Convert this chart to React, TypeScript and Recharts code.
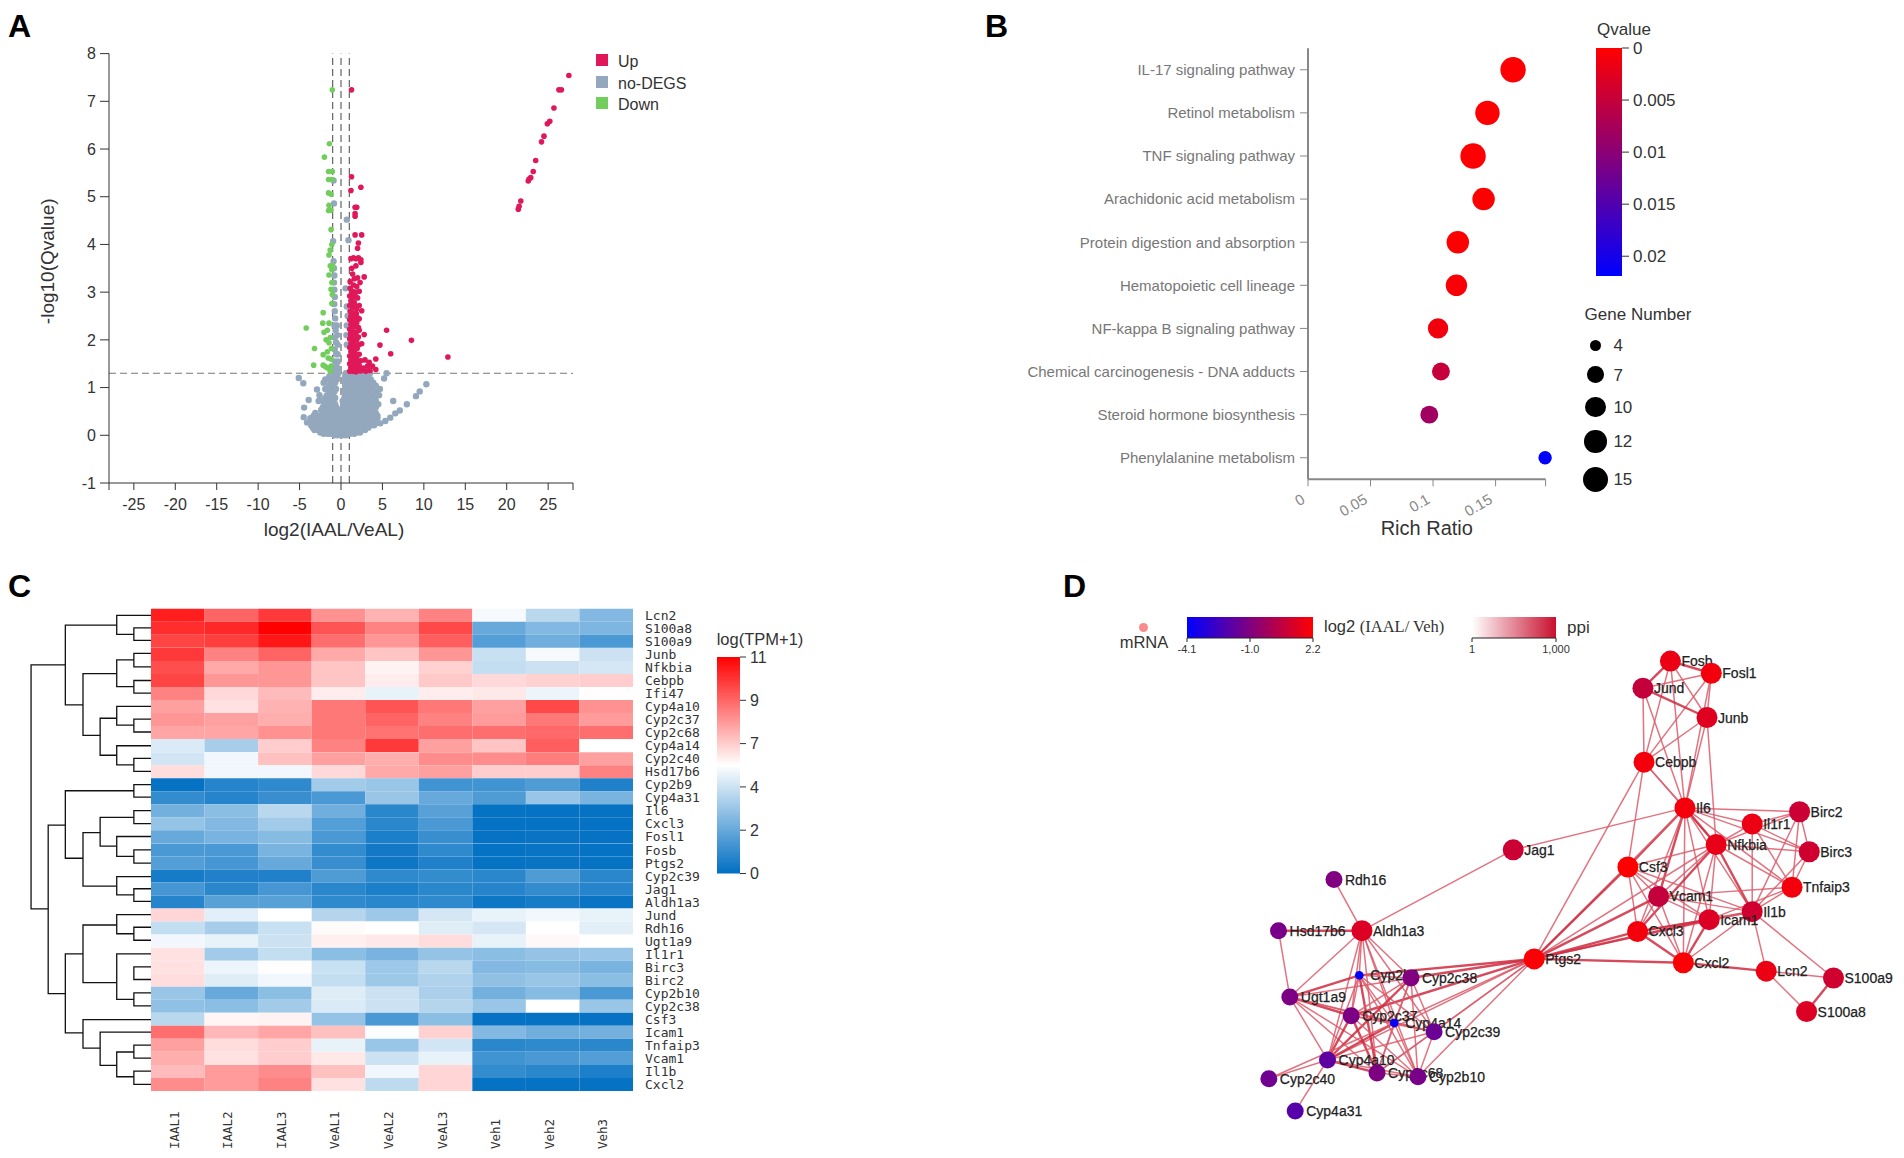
import { Bar, BarChart, Cell, Label, ReferenceLine, Scatter, ScatterChart, XAxis, YAxis, ZAxis } from 'recharts';

const SANS = '"Liberation Sans", Arial, sans-serif';
const MONO = '"DejaVu Sans Mono", monospace';

// A: volcano plot, [log2 fold change, -log10 q]
const volcanoUp: [number, number][] = [
  [21.4, 4.74], [21.5, 4.8], [21.7, 4.91], [22.6, 5.33], [22.7, 5.37], [22.9, 5.4], [23.2, 5.53], [23.5, 5.76],
  [24.2, 6.15], [24.5, 6.27], [24.9, 6.53], [25.2, 6.58], [25.7, 6.86], [26.3, 7.24], [26.6, 7.24], [27.5, 7.54],
  [1.27, 7.24], [1.27, 5.42], [2.4, 5.2], [1.2, 5.13], [1.7, 4.78], [1.9, 4.78], [1.7, 4.65], [1.7, 4.59],
  [1.7, 4.2], [2.5, 4.2], [2.1, 4.03], [2, 3.92], [1.2, 3.7], [1.5, 3.72], [1.8, 3.7], [2.1, 3.72], [2.4, 3.68],
  [2.4, 3.62], [1.3, 3.5], [1.8, 3.55], [2.8, 3.32], [1.4, 3.38], [1.6, 3.28], [2, 3.3], [2.3, 3.2], [1.1, 3.22],
  [1.5, 3.15], [1.9, 3.12], [1.1, 3.08], [1.4, 3.02], [1.8, 3], [2.2, 3.02], [1.05, 2.92], [1.5, 2.9], [2, 2.88],
  [1.2, 2.82], [1.6, 2.78], [2.2, 2.72], [1.05, 2.72], [1.4, 2.68], [1.9, 2.65], [2.5, 2.61], [1.1, 2.6], [1.6, 2.56],
  [1.2, 2.5], [1.7, 2.46], [2.2, 2.44], [1.05, 2.42], [1.45, 2.38], [1.9, 2.36], [1.2, 2.32], [1.6, 2.28], [2.1, 2.26],
  [1.05, 2.22], [1.4, 2.18], [1.85, 2.16], [2.2, 2.2], [1.15, 2.12], [1.6, 2.08], [2.8, 2.11], [1.05, 2.02], [1.4, 1.98],
  [1.9, 2.0], [1.2, 1.92], [1.6, 1.9], [2.5, 1.92], [1.05, 1.84], [1.45, 1.82], [1.95, 1.82], [1.2, 1.75], [1.7, 1.72],
  [1.05, 1.66], [1.4, 1.66], [1.9, 1.64], [2.2, 1.7], [1.2, 1.58], [1.65, 1.56], [2.4, 1.56], [1.05, 1.5], [1.4, 1.48],
  [1.85, 1.48], [2.2, 1.46], [1.2, 1.42], [1.6, 1.4], [2.05, 1.38], [1.05, 1.34], [1.4, 1.34], [1.8, 1.33],
  [2.9, 1.58], [3.4, 1.53], [4.2, 1.6], [3.2, 1.45], [3.8, 1.45], [4.2, 1.38], [2.7, 1.41], [2.5, 1.36], [3.5, 1.36], [3, 1.34],
  [5.5, 2.2], [8.5, 1.99], [4.7, 1.89], [6, 1.71], [12.9, 1.64],
  [1.3, 2.95], [1.7, 2.9], [1.35, 2.76], [1.8, 2.7], [1.4, 2.56], [1.85, 2.55], [1.35, 2.44], [2, 2.46], [1.4, 2.27], [1.85, 2.27],
  [1.25, 2.06], [1.7, 2.0], [2.1, 2.06], [1.4, 1.86], [1.75, 1.82], [2.15, 1.9], [1.35, 1.74], [1.55, 1.66], [2.05, 1.56], [1.3, 1.5],
  [1.65, 1.47], [1.95, 1.42], [1.3, 1.38], [2.3, 1.35],
];
const volcanoDown: [number, number][] = [
  [-1.05, 7.24], [-1.4, 6.11], [-2, 5.83], [-1.5, 5.53], [-1.05, 5.53], [-1.5, 5.36], [-1.1, 5.36], [-1.5, 5.08], [-1.2, 5.05],
  [-1.45, 4.82], [-1.5, 4.71], [-1.2, 4.72], [-1.2, 4.31], [-1.1, 4], [-1.3, 3.88], [-1.45, 3.78], [-1.3, 3.55], [-1, 3.55],
  [-1.1, 3.47], [-1.45, 3.36], [-1.1, 3.2], [-1.2, 3.06], [-1.05, 2.95], [-1.1, 2.76], [-2.15, 2.57], [-4.2, 2.25], [-2.2, 2.35],
  [-1.45, 2.35], [-1.65, 2.2], [-2.05, 2.16], [-1.3, 2.05], [-1.8, 2.0], [-1.45, 1.94], [-3.2, 1.82], [-1.65, 1.75], [-2.15, 1.69],
  [-1.55, 1.62], [-1.2, 1.6], [-3.3, 1.47], [-2.15, 1.47], [-1.65, 1.41], [-1.3, 1.34], [-1.9, 1.44], [-1.2, 1.45], [-1.15, 1.82],
];
const flatOutliers: [number, number][] = [
  [-0.9, 5.34], [-0.85, 4.86], [0.7, 4.52], [-0.95, 4.07], [0.9, 4.09], [0.55, 3.08], [-5.1, 1.2], [-4.55, 1.09], [-4.45, 0.58],
  [-4.5, 0.38], [-4.1, 0.27], [-3.9, 0.74], [-2.7, 0.72], [-2.9, 0.96], [-1.9, 1.17],
  [4.75, 0.25], [5.35, 0.3], [5.95, 0.37], [6.55, 0.46], [7.1, 0.52], [7.95, 0.65], [9.05, 0.82], [9.5, 0.92], [10.3, 1.07],
  [5.5, 1.3], [5.2, 1.19], [6.3, 0.72], [0.7, 2.7], [0.8, 2.5], [0.7, 2.3], [0.65, 2.1], [0.7, 1.9],
  [-0.9, 3.65], [-0.85, 3.5], [-0.8, 3.35], [-0.85, 3.2], [-0.8, 3.05], [-0.75, 2.9], [-0.8, 2.75], [-0.75, 2.6], [-0.7, 2.45],
  [-0.8, 2.3], [-0.65, 2.2], [-0.75, 2.05], [-0.6, 1.95], [-0.75, 1.8], [-0.6, 1.7], [-0.75, 1.55], [-0.55, 1.5], [-0.7, 1.4], [-0.45, 1.35],
  [-0.5, 2.3], [-0.45, 2.1], [-0.4, 1.9], [-0.4, 1.7], [-0.35, 1.55], [-0.35, 1.4],
];
// rows of the grey cloud under the q threshold: [-log10 q, fold changes]
const flatRows: [number, number[]][] = [
  [0.0, [-0.8, -0.4, 0.2, 0.6]],
  [0.03, [-2.1, -1.6, -1.2, -0.2, 1.1, 1.6]],
  [0.06, [-2.5, -1.9, -1.3, -0.8, -0.3, 0.1, 0.5, 1, 1.4, 1.9, 2.3]],
  [0.11, [-3.2, -2.7, -2.2, -1.7, -1.1, -0.6, 0, 0.5, 1, 1.5, 2, 2.5, 2.9]],
  [0.16, [-3.4, -2.9, -2.4, -1.8, -1.3, -0.8, -0.2, 0.3, 0.8, 1.3, 1.8, 2.3, 2.8, 3.3]],
  [0.21, [-3.6, -3.1, -2.6, -2.1, -1.5, -1, -0.5, 0.1, 0.6, 1.1, 1.6, 2.1, 2.6, 3.1, 3.6, 4]],
  [0.26, [-3.7, -3.3, -2.8, -2.3, -1.7, -1.2, -0.7, -0.1, 0.4, 0.9, 1.4, 1.9, 2.4, 2.9, 3.4, 3.8, 4.3]],
  [0.31, [-3.6, -3.1, -2.6, -2.1, -1.5, -1, -0.5, 0.1, 0.6, 1.1, 1.6, 2.2, 2.7, 3.2, 3.7, 4.2]],
  [0.36, [-3.7, -3.3, -2.8, -2.2, -1.7, -1.2, -0.7, -0.1, 0.4, 0.9, 1.4, 2, 2.5, 3, 3.5, 4, 4.4]],
  [0.41, [-3.3, -2.5, -2, -1.5, -0.9, -0.4, 0.2, 0.7, 1.2, 1.8, 2.3, 2.8, 3.3, 3.9, 4.4]],
  [0.47, [-3.1, -2.1, -1.6, -1, -0.5, 0.1, 0.6, 1.1, 1.6, 2.1, 2.6, 3.1, 3.6, 4.2]],
  [0.53, [-2.4, -1.8, -1.3, -0.8, -0.3, 0.3, 0.8, 1.3, 1.8, 2.3, 2.9, 3.4, 3.9]],
  [0.59, [-2.2, -1.7, -1.1, -0.6, 0.2, 0.7, 1.2, 1.7, 2.2, 2.7, 3.2, 3.7, 4.2]],
  [0.65, [-1.9, -1.3, -0.7, 0.3, 0.8, 1.3, 1.8, 2.3, 2.8, 3.3, 3.8, 4.5]],
  [0.72, [-2.2, -1.5, -0.9, 0.2, 0.7, 1.2, 1.7, 2.2, 2.7, 3.2, 3.7, 4.2]],
  [0.78, [-1.9, -1.2, -0.7, 0.4, 0.8, 1.3, 1.9, 2.4, 3, 3.5, 4.1]],
  [0.84, [-2.6, -1.7, -1, 0.5, 0.9, 1.3, 1.7, 2.2, 2.7, 3.3, 3.9, 4.6]],
  [0.91, [-1.4, -0.8, 0.5, 0.8, 1.3, 1.9, 2.4, 2.9, 3.4, 4.3]],
  [0.97, [-1.9, -1.1, -0.6, 0.5, 0.9, 1.2, 1.7, 2.2, 2.7, 3.2, 3.8, 4.7]],
  [1.04, [-1.5, -0.9, 0.5, 0.8, 1.3, 1.8, 2.4, 2.9, 3.4, 4.2]],
  [1.1, [-2.1, -1.2, -0.7, 0.5, 0.9, 1.2, 1.7, 2.2, 2.7, 3.2, 3.9]],
  [1.17, [-1.6, -1, -0.5, 0.5, 0.8, 1.3, 1.9, 2.4, 3, 3.6]],
  [1.24, [-1.4, -0.8, -0.45, 0.5, 0.9, 1.2, 1.7, 2.2, 2.7, 3.3]],
  [1.3, [-1, -0.6, -0.35, 0.6, 0.9, 1.4, 1.9, 2.4, 3, 3.5]],
];
const volcanoXTicks = [-28, -25, -20, -15, -10, -5, 0, 5, 10, 15, 20, 25, 28];
const volcanoYTicks = [-1, 0, 1, 2, 3, 4, 5, 6, 7, 8];

// B: KEGG enrichment
const pathways = [
  'IL-17 signaling pathway', 'Retinol metabolism', 'TNF signaling pathway', 'Arachidonic acid metabolism',
  'Protein digestion and absorption', 'Hematopoietic cell lineage', 'NF-kappa B signaling pathway',
  'Chemical carcinogenesis - DNA adducts', 'Steroid hormone biosynthesis', 'Phenylalanine metabolism',
];
const richRatio = [0.164, 0.1435, 0.132, 0.1404, 0.1198, 0.1187, 0.104, 0.1063, 0.097, 0.1896];
const geneNumber = [15, 14, 15, 12, 12, 11, 10, 8, 8, 5];
const qValue = [0.0003, 0.0001, 0.0001, 0.0002, 0.0002, 0.0005, 0.0012, 0.005, 0.0082, 0.0219];
const richTicks = [0, 0.05, 0.1, 0.15, 0.19];
const qTicks = [0, 0.005, 0.01, 0.015, 0.02];
const QMAX = 0.0219;
const geneLegend = [4, 7, 10, 12, 15];

// C: heatmap of log(TPM+1)
const heatSamples = ['IAAL1', 'IAAL2', 'IAAL3', 'VeAL1', 'VeAL2', 'VeAL3', 'Veh1', 'Veh2', 'Veh3'];
const heatGenes = [
  'Lcn2', 'S100a8', 'S100a9', 'Junb', 'Nfkbia', 'Cebpb', 'Ifi47', 'Cyp4a10', 'Cyp2c37', 'Cyp2c68', 'Cyp4a14', 'Cyp2c40', 'Hsd17b6',
  'Cyp2b9', 'Cyp4a31', 'Il6', 'Cxcl3', 'Fosl1', 'Fosb', 'Ptgs2', 'Cyp2c39', 'Jag1', 'Aldh1a3', 'Jund', 'Rdh16', 'Ugt1a9',
  'Il1r1', 'Birc3', 'Birc2', 'Cyp2b10', 'Cyp2c38', 'Csf3', 'Icam1', 'Tnfaip3', 'Vcam1', 'Il1b', 'Cxcl2',
];
const heatValues = [
  [10.5, 9.2, 10, 8.3, 7.6, 8.6, 5.3, 4, 2.8],
  [10.2, 10.3, 11, 9.5, 8.6, 9.7, 2.2, 2.8, 2.7],
  [9.8, 9.9, 10.6, 9, 8.2, 9.3, 1.8, 2.4, 1.6],
  [10, 8.6, 9.2, 7.8, 7.2, 8.2, 4.3, 5.3, 4.4],
  [9.6, 7.8, 8.2, 7.2, 6, 6.9, 4.2, 4.4, 4.6],
  [9.8, 8.2, 8.2, 7.2, 6.2, 7.1, 6.7, 6.9, 7],
  [8.6, 6.7, 7.4, 6.2, 5, 6.2, 6.3, 5.1, 5.6],
  [8, 6.5, 7.6, 8.8, 9.5, 8.8, 8, 9.7, 8.3],
  [8.2, 8, 7.7, 8.8, 9.2, 8.6, 8.1, 8.8, 8.1],
  [7.9, 7.9, 8.3, 8.8, 8.9, 9, 9, 9.1, 9],
  [4.7, 3.6, 7, 8.6, 10, 8, 7.2, 9.3, 5.5],
  [4.5, 5.2, 7.3, 8, 7.7, 8.4, 8.4, 8.7, 8],
  [6.6, 5.2, 5.2, 6.7, 7.8, 8, 7, 7, 8.6],
  [0.1, 0.8, 1, 3.5, 3.3, 1.4, 1.4, 1.7, 0.7],
  [1.1, 0.8, 1.2, 1.6, 3.3, 2.2, 1.7, 3.3, 2.6],
  [2.5, 3, 4, 2.4, 0.9, 1.9, 0.1, 0.1, 0.1],
  [3.2, 2.8, 3.5, 1.8, 0.9, 1.6, 0.1, 0.1, 0.1],
  [2.2, 2.6, 2.9, 1.6, 0.6, 1.2, 0.1, 0.2, 0.1],
  [1.6, 1.6, 2.6, 1.1, 0.4, 1, 0.1, 0.2, 0.1],
  [1.8, 1.5, 2.2, 1.2, 0.3, 0.7, 0.1, 0.2, 0.1],
  [0.5, 0.7, 0.7, 1.7, 1, 1.1, 0.9, 1.7, 0.9],
  [1.5, 0.9, 1.5, 0.9, 0.6, 0.9, 0.8, 1.1, 0.8],
  [0.8, 1.9, 1.9, 1, 0.9, 1, 0.3, 0.5, 0.2],
  [6.8, 4.9, 5.5, 3.9, 3.4, 4.6, 5, 5.2, 5],
  [4.2, 3.6, 4.3, 5.7, 5.5, 4.8, 4.6, 5.5, 4.9],
  [5.2, 5, 4.4, 6.1, 6.3, 6.6, 5, 5.8, 5.5],
  [6.5, 3.5, 4.2, 3, 2.6, 3.2, 3, 3.2, 3.3],
  [6.5, 5.1, 5.6, 4.3, 3.4, 4, 2.8, 2.9, 2.6],
  [6.6, 4.8, 5.2, 4.2, 3.4, 3.8, 3.1, 3.3, 3],
  [3.3, 2.2, 3, 4.8, 4.4, 3.7, 2.5, 2.9, 1.6],
  [3.1, 3, 3.5, 4.7, 4.4, 3.9, 3.3, 5.5, 3.3],
  [4, 5.9, 6, 3.2, 1.6, 3, 0.1, 0.1, 0.1],
  [9, 7.5, 7.9, 7.3, 5.4, 6.9, 2.8, 2.4, 2.5],
  [8, 6.6, 7, 5, 3.3, 4.5, 0.9, 1, 0.9],
  [7.7, 6.5, 7, 6.3, 4.4, 5, 1.4, 1.6, 1.8],
  [7.4, 8.1, 8.4, 7.3, 5.2, 6.8, 1.1, 0.9, 0.6],
  [8.4, 8.1, 8.6, 6.5, 4.1, 6.8, 0.1, 0.1, 0.1],
];
const heatScaleLabels = ['0', '2', '4', '7', '9', '11'];
// merge height, then each child's row and height: [h, y1, h1, y2, h2]
const dendroLinks: number[][] = [
  [58, 275, 122, 915, 90], [122, 171, 218, 380, 155], [218, 145, 282, 195, 250], [250, 178, 282, 211, 282],
  [155, 298, 218, 460, 187], [218, 262, 250, 332, 250], [250, 245, 282, 280, 282], [250, 316, 282, 349, 282],
  [187, 415, 218, 512, 218], [218, 384, 282, 433, 250], [250, 417, 282, 451, 282], [218, 487, 282, 537, 250], [250, 520, 282, 554, 282],
  [90, 695, 122, 1137, 122], [122, 605, 250, 782, 155], [250, 589, 282, 622, 282], [155, 715, 187, 855, 218],
  [187, 675, 250, 750, 218], [250, 657, 282, 691, 282], [218, 725, 282, 777, 250], [250, 760, 282, 795, 282],
  [218, 830, 282, 878, 250], [250, 862, 282, 895, 282], [122, 1033, 155, 1240, 155], [155, 957, 218, 1108, 218],
  [218, 930, 282, 980, 250], [250, 963, 282, 997, 282], [218, 1033, 282, 1152, 250], [250, 1067, 282, 1100, 282], [250, 1135, 282, 1169, 282],
  [155, 1205, 282, 1280, 187], [187, 1238, 282, 1325, 218], [218, 1290, 250, 1355, 250], [250, 1272, 282, 1306, 282], [250, 1340, 282, 1375, 282],
];

// D: PPI network, [name, layout x, layout y, log2 fold change]
const ppiNodes: [string, number, number, number][] = [
  ['Fosb', 1134, 265, 1.7], ['Fosl1', 1210, 297, 1.9], ['Jund', 1083, 336, 0.7], ['Junb', 1202, 413, 1.4], ['Cebpb', 1085, 530, 1.9],
  ['Il6', 1161, 650, 1.9], ['Birc2', 1374, 660, 0.9], ['Il1r1', 1286, 692, 1.7], ['Nfkbia', 1219, 746, 1.6], ['Birc3', 1392, 765, 1.0],
  ['Jag1', 842, 760, 0.9], ['Csf3', 1055, 805, 2.2], ['Tnfaip3', 1360, 858, 1.9], ['Vcam1', 1112, 882, 0.7], ['Il1b', 1286, 922, 1.0],
  ['Icam1', 1206, 943, 1.3], ['Cxcl3', 1073, 974, 1.9], ['Ptgs2', 881, 1046, 2.1], ['Cxcl2', 1158, 1056, 2.1], ['Lcn2', 1312, 1078, 1.7],
  ['S100a9', 1437, 1096, 1.0], ['S100a8', 1387, 1184, 1.3], ['Rdh16', 509, 838, -1.0], ['Hsd17b6', 406, 972, -1.2], ['Aldh1a3', 561, 972, 1.3],
  ['Cyp2b9', 556, 1089, -4.1], ['Cyp2c38', 652, 1096, -1.0], ['Ugt1a9', 427, 1146, -1.1], ['Cyp2c37', 541, 1195, -1.1], ['Cyp4a14', 621, 1214, -3.9],
  ['Cyp2c39', 695, 1237, -1.5], ['Cyp4a10', 497, 1311, -1.8], ['Cyp2c68', 589, 1345, -1.05], ['Cyp2b10', 665, 1355, -1.2], ['Cyp2c40', 388, 1360, -1.4],
  ['Cyp4a31', 437, 1445, -2.0],
];
const ppiEdges: [string, string[]][] = [
  ['Fosb', ['Fosl1', 'Jund', 'Junb', 'Cebpb', 'Il6']],
  ['Fosl1', ['Jund', 'Junb', 'Cebpb', 'Il6']],
  ['Jund', ['Junb', 'Cebpb', 'Il6']],
  ['Junb', ['Cebpb', 'Il6', 'Nfkbia']],
  ['Cebpb', ['Il6', 'Nfkbia', 'Csf3', 'Ptgs2']],
  ['Il6', ['Jag1', 'Birc2', 'Il1r1', 'Nfkbia', 'Birc3', 'Tnfaip3', 'Il1b', 'Icam1', 'Vcam1', 'Cxcl3', 'Cxcl2', 'Csf3', 'Ptgs2']],
  ['Birc2', ['Il1r1', 'Birc3', 'Nfkbia', 'Tnfaip3', 'Il1b']],
  ['Il1r1', ['Nfkbia', 'Birc3', 'Tnfaip3', 'Il1b']],
  ['Nfkbia', ['Birc3', 'Tnfaip3', 'Il1b', 'Icam1', 'Vcam1', 'Cxcl3', 'Cxcl2', 'Csf3', 'Ptgs2']],
  ['Birc3', ['Tnfaip3', 'Il1b']],
  ['Tnfaip3', ['Il1b', 'Icam1', 'Vcam1']],
  ['Csf3', ['Vcam1', 'Il1b', 'Icam1', 'Cxcl3', 'Cxcl2', 'Ptgs2']],
  ['Vcam1', ['Il1b', 'Icam1', 'Cxcl3', 'Cxcl2', 'Ptgs2']],
  ['Il1b', ['Icam1', 'Cxcl3', 'Cxcl2', 'Lcn2', 'S100a9', 'Ptgs2']],
  ['Icam1', ['Cxcl3', 'Cxcl2', 'Ptgs2']],
  ['Cxcl3', ['Cxcl2', 'Ptgs2']],
  ['Ptgs2', ['Cxcl2', 'Cyp2b9', 'Cyp2c38', 'Cyp2c37', 'Cyp4a14', 'Cyp2c39', 'Cyp4a10', 'Cyp2c68', 'Cyp2b10']],
  ['Cxcl2', ['Lcn2']],
  ['Lcn2', ['S100a9', 'S100a8']],
  ['S100a9', ['S100a8']],
  ['Aldh1a3', ['Jag1', 'Rdh16', 'Hsd17b6', 'Ugt1a9', 'Cyp2b9', 'Cyp2c38', 'Cyp2c37', 'Cyp4a14', 'Cyp2c39', 'Cyp4a10', 'Cyp2c68', 'Cyp2b10']],
  ['Hsd17b6', ['Ugt1a9']],
  ['Ugt1a9', ['Cyp2b9', 'Cyp2c38', 'Cyp2c37', 'Cyp4a14', 'Cyp2c39', 'Cyp4a10', 'Cyp2c68', 'Cyp2b10']],
  ['Cyp2b9', ['Cyp2c38', 'Cyp2c37', 'Cyp4a14', 'Cyp2c39', 'Cyp4a10', 'Cyp2c68', 'Cyp2b10']],
  ['Cyp2c38', ['Cyp2c37', 'Cyp4a14', 'Cyp2c39', 'Cyp4a10', 'Cyp2c68', 'Cyp2b10']],
  ['Cyp2c37', ['Cyp4a14', 'Cyp2c39', 'Cyp4a10', 'Cyp2c68', 'Cyp2b10']],
  ['Cyp4a14', ['Cyp2c39', 'Cyp4a10', 'Cyp2c68', 'Cyp2b10', 'Cyp2c40']],
  ['Cyp2c39', ['Cyp4a10', 'Cyp2c68', 'Cyp2b10']],
  ['Cyp4a10', ['Cyp2c68', 'Cyp2b10', 'Cyp2c40', 'Cyp4a31']],
  ['Cyp2c68', ['Cyp2b10']],
];
// high-score links, drawn heavier
const ppiStrong = [
  'Fosb-Jund', 'Fosb-Fosl1', 'Jund-Junb', 'Il6-Csf3', 'Il6-Nfkbia', 'Il6-Vcam1', 'Nfkbia-Il1b', 'Nfkbia-Cxcl3', 'Csf3-Ptgs2',
  'Cxcl3-Ptgs2', 'Icam1-Ptgs2', 'Vcam1-Ptgs2', 'Icam1-Cxcl2', 'Cxcl3-Cxcl2', 'Icam1-Cxcl3', 'Ptgs2-Cxcl2', 'Cxcl2-Lcn2', 'Il1b-Icam1',
  'Hsd17b6-Aldh1a3', 'Aldh1a3-Hsd17b6', 'S100a9-S100a8', 'Ptgs2-Cyp2c38', 'Ptgs2-Cyp2b9', 'Ptgs2-Cyp2c37', 'Cyp2c37-Cyp4a10', 'Ugt1a9-Cyp2c37',
  'Cyp4a14-Cyp4a10', 'Cyp4a10-Cyp2c68', 'Cyp2c38-Cyp4a10', 'Cyp2b9-Cyp2c68', 'Ugt1a9-Cyp2b9', 'Cyp2c37-Cyp2c68',
];

const toPoints = (rows: [number, number][]) => rows.map(([x, y]) => ({ x, y }));
const volcanoFlat = [
  ...flatRows.flatMap(([y, xs]) => xs.map((x) => ({ x, y }))),
  ...toPoints(flatOutliers),
];
const enrichment = pathways.map((name, i) => ({ name, rank: i, ratio: richRatio[i], genes: geneNumber[i], q: qValue[i] }));
const heatRows = heatGenes.map((gene) => ({ gene, ...Object.fromEntries(heatSamples.map((s) => [s, 1])) }));
const nodes = ppiNodes.map(([name, x, y, log2]) => ({ name, x, y, log2 }));
const nodeByName = Object.fromEntries(nodes.map((n) => [n.name, n]));
const edges = ppiEdges.flatMap(([from, tos]) => tos.map((to) => [nodeByName[from], nodeByName[to]]));

const mix = (a: number[], b: number[], t: number) =>
  `rgb(${a.map((c, i) => Math.round(c + (b[i] - c) * t)).join(',')})`;
const qColor = (q: number) => mix([255, 0, 0], [0, 0, 255], q / QMAX);
const heatColor = (v: number) =>
  v < 5.5 ? mix([0, 111, 194], [255, 255, 255], v / 5.5) : mix([255, 255, 255], [255, 0, 0], Math.pow((v - 5.5) / 5.5, 1.25));
const nodeColor = (v: number) =>
  v < -1 ? mix([0, 0, 255], [128, 0, 128], (v + 4.1) / 3.1) : mix([128, 0, 128], [255, 0, 0], (v + 1) / 3.2);
const nodeRadius = (v: number) => (v < -3 ? 4.3 : v < 0 ? 8.5 : 10.5);
// same mapping as the ZAxis in panel B
const geneDiameter = (g: number) => 2 * Math.sqrt((105 + ((g - 4) / 11) * 402) / Math.PI);

function Txt({ x, y, size = 16, anchor = 'start', color = '#222', weight = 400, family = SANS, children }: any) {
  const shift = anchor === 'middle' ? '-50%' : anchor === 'end' ? '-100%' : '0';
  return (
    <div style={{ position: 'absolute', left: x, top: y, transform: `translate(${shift},-50%)`, fontSize: size, color, fontWeight: weight, fontFamily: family, whiteSpace: 'nowrap', lineHeight: 1 }}>
      {children}
    </div>
  );
}

const Panel = ({ x, y, children }: any) => <div style={{ position: 'absolute', left: x, top: y }}>{children}</div>;

const dot = (fill: string, r = 2.8) => (p: any) => <circle cx={p.cx} cy={p.cy} r={r} fill={fill} />;
const noMark = () => null;

function VolcanoPanel() {
  const tickStyle = { fontSize: 16, fill: '#333', fontFamily: SANS };
  return (
    <Panel x={0} y={0}>
      <ScatterChart width={720} height={560} margin={{ top: 53.6, right: 147, bottom: 17, left: 49 }}>
        <XAxis type="number" dataKey="x" domain={[-28, 28]} ticks={volcanoXTicks} interval={0} height={60} tick={tickStyle}
          tickSize={7} tickMargin={9} stroke="#333" tickFormatter={(v) => (Math.abs(v) === 28 ? '' : String(v))}>
          <Label value="log2(IAAL/VeAL)" position="insideBottom" offset={7} dx={-7} fontSize={19} fill="#333" fontFamily={SANS} />
        </XAxis>
        <YAxis type="number" dataKey="y" domain={[-1, 8]} ticks={volcanoYTicks} interval={0} width={60} tick={tickStyle}
          tickSize={9} tickMargin={4} stroke="#333">
          <Label value="-log10(Qvalue)" angle={-90} position="insideLeft" textAnchor="middle" offset={-2} dy={-7} fontSize={19} fill="#333" fontFamily={SANS} />
        </YAxis>
        <Scatter data={volcanoFlat} shape={dot('#94a8bd', 3.2)} isAnimationActive={false} />
        <Scatter data={toPoints(volcanoUp)} shape={dot('#e0185a')} isAnimationActive={false} />
        <Scatter data={toPoints(volcanoDown)} shape={dot('#72cd5c')} isAnimationActive={false} />
        <ReferenceLine y={1.3} stroke="#777" strokeDasharray="7 4" />
        {[-1, 0, 1].map((x) => <ReferenceLine key={x} x={x} stroke="#444" strokeDasharray="7 4" />)}
      </ScatterChart>
      {[['Up', '#e0185a', 60], ['no-DEGS', '#94a8bd', 82], ['Down', '#72cd5c', 103]].map(([name, fill, y]: any) => (
        <div key={name}>
          <div style={{ position: 'absolute', left: 596, top: y - 6, width: 12, height: 12, background: fill }} />
          <Txt x={618} y={y + 2} size={16} color="#333">{name}</Txt>
        </div>
      ))}
    </Panel>
  );
}

function RichTick({ x, y, payload }: any) {
  if (payload.value === 0.19) return null;
  return (
    <text x={x - 2} y={y + 14} textAnchor="end" fontSize={15} fill="#888" fontFamily={SANS} transform={`rotate(-30 ${x - 2} ${y + 14})`}>
      {payload.value}
    </text>
  );
}

function EnrichmentPanel() {
  return (
    <>
      <Panel x={980} y={0}>
        <ScatterChart width={600} height={560} margin={{ top: 48.2, right: 34.4, bottom: 20.7, left: 0 }}>
          <XAxis type="number" dataKey="ratio" domain={[0, 0.19]} ticks={richTicks} interval={0} height={60} tick={<RichTick />}
            tickSize={7} axisLine={{ stroke: '#888', strokeWidth: 2 }} tickLine={{ stroke: '#888' }}>
            <Label value="Rich Ratio" position="insideBottom" offset={4} fontSize={20} fill="#333" fontFamily={SANS} />
          </XAxis>
          <YAxis type="number" dataKey="rank" domain={[-0.5, 9.5]} ticks={pathways.map((_, i) => i)} interval={0} reversed width={328}
            tick={{ fontSize: 15, fill: '#777', fontFamily: SANS }} tickSize={8} tickMargin={5}
            axisLine={{ stroke: '#888', strokeWidth: 2 }} tickLine={{ stroke: '#888' }} tickFormatter={(i) => pathways[i]} />
          <ZAxis type="number" dataKey="genes" domain={[4, 15]} range={[105, 507]} />
          <Scatter data={enrichment} isAnimationActive={false}>
            {enrichment.map((d) => <Cell key={d.name} fill={qColor(d.q)} />)}
          </Scatter>
        </ScatterChart>
      </Panel>
      <Txt x={1624} y={29} size={17} anchor="middle" color="#333">Qvalue</Txt>
      <Panel x={1590} y={30}>
        <BarChart width={110} height={260} data={[{ k: 'q', v: QMAX }]} barCategoryGap={0} margin={{ top: 18, right: 18, bottom: 14, left: 6 }}>
          <defs>
            <linearGradient id="qGrad" x1="0" y1="0" x2="0" y2="1">
              <stop offset="0%" stopColor="#ff0000" />
              <stop offset="100%" stopColor="#0000ff" />
            </linearGradient>
          </defs>
          <XAxis dataKey="k" hide />
          <YAxis type="number" orientation="right" domain={[0, QMAX]} ticks={qTicks} interval={0} reversed width={60}
            tick={{ fontSize: 17, fill: '#333', fontFamily: SANS }} tickSize={7} tickMargin={4} stroke="#333" axisLine={false} />
          <Bar dataKey="v" fill="url(#qGrad)" isAnimationActive={false} />
        </BarChart>
      </Panel>
      <Txt x={1638} y={314} size={17} anchor="middle" color="#333">Gene Number</Txt>
      {geneLegend.map((g, i) => {
        const d = geneDiameter(g);
        const y = [345.4, 374.6, 406.8, 441.4, 479.3][i];
        return (
          <div key={g}>
            <div style={{ position: 'absolute', left: 1595.5 - d / 2, top: y - d / 2, width: d, height: d, borderRadius: '50%', background: '#000' }} />
            <Txt x={1613.4} y={y} size={17} color="#333">{g}</Txt>
          </div>
        );
      })}
    </>
  );
}

function Dendrogram() {
  return (
    <Panel x={0} y={560}>
      <ScatterChart width={151} height={598} margin={{ top: 0, right: 0, bottom: 0, left: 0 }}>
        <XAxis type="number" dataKey="x" domain={[0, 282]} hide />
        <YAxis type="number" dataKey="y" domain={[0, 1568]} reversed hide />
        {dendroLinks.map(([h, y1, h1, y2, h2]) => (
          <Scatter key={`${h}-${y1}-${y2}`} data={[{ x: h1, y: y1 }, { x: h, y: y1 }, { x: h, y: y2 }, { x: h2, y: y2 }]}
            line={{ stroke: '#111', strokeWidth: 1.3 }} shape={noMark} isAnimationActive={false} />
        ))}
      </ScatterChart>
    </Panel>
  );
}

function SampleTick({ x, y, payload }: any) {
  const label = heatSamples[Math.floor(payload.value)];
  const px = x + 1;
  const py = y + 50;
  return (
    <text x={px} y={py} fontSize={12.5} fill="#333" fontFamily={MONO} transform={`rotate(-90 ${px} ${py})`}>{label}</text>
  );
}

function HeatmapPanel() {
  return (
    <>
      <Dendrogram />
      <Panel x={0} y={560}>
        <BarChart layout="vertical" width={840} height={598} data={heatRows} barCategoryGap={0} margin={{ top: 48.8, right: 107, bottom: 7, left: 151 }}>
          <XAxis type="number" domain={[0, 9]} ticks={heatSamples.map((_, i) => i + 0.5)} interval={0} height={60} axisLine={false} tickLine={false} tick={<SampleTick />} />
          <YAxis type="category" dataKey="gene" orientation="right" width={100} interval={0} axisLine={false} tickLine={false} tickSize={0} tickMargin={12}
            tick={{ fontSize: 13, fill: '#333', fontFamily: MONO }} />
          {heatSamples.map((s, c) => (
            <Bar key={s} dataKey={s} stackId="cells" isAnimationActive={false}>
              {heatGenes.map((g, r) => <Cell key={g} fill={heatColor(heatValues[r][c])} />)}
            </Bar>
          ))}
        </BarChart>
      </Panel>
      <Txt x={760} y={639} size={16.5} anchor="middle" color="#333">log(TPM+1)</Txt>
      <Panel x={710} y={640}>
        <BarChart width={90} height={250} data={[{ k: 'tpm', v: 5 }]} barCategoryGap={0} margin={{ top: 17, right: 0, bottom: 16.5, left: 7 }}>
          <defs>
            <linearGradient id="tpmGrad" x1="0" y1="1" x2="0" y2="0">
              <stop offset="0%" stopColor="#006fc2" />
              <stop offset="50%" stopColor="#ffffff" />
              <stop offset="100%" stopColor="#ff0000" />
            </linearGradient>
          </defs>
          <XAxis dataKey="k" hide />
          <YAxis type="number" orientation="right" domain={[0, 5]} ticks={[0, 1, 2, 3, 4, 5]} interval={0} width={60}
            tick={{ fontSize: 16, fill: '#333', fontFamily: SANS }} tickSize={6} tickMargin={4} stroke="#333" axisLine={false}
            tickFormatter={(i) => heatScaleLabels[i]} />
          <Bar dataKey="v" fill="url(#tpmGrad)" isAnimationActive={false} />
        </BarChart>
      </Panel>
    </>
  );
}

function NodeMark({ cx, cy, payload }: any) {
  return (
    <g>
      <circle cx={cx} cy={cy} r={nodeRadius(payload.log2)} fill={nodeColor(payload.log2)} />
      <text x={cx + 11} y={cy + 5} fontSize={14} fill="#222" stroke="#222" strokeWidth={0.25} fontFamily={SANS}>{payload.name}</text>
    </g>
  );
}

function ScaleBar({ id, x, width, stops, ticks, labels }: any) {
  return (
    <Panel x={x - 15} y={617}>
      <BarChart layout="vertical" width={width + 30} height={46} data={[{ k: 'scale', v: 1 }]} barCategoryGap={0} margin={{ top: 0, right: 15, bottom: 0, left: 15 }}>
        <defs>
          <linearGradient id={id} x1="0" y1="0" x2="1" y2="0">
            {stops.map(([o, c]: any) => <stop key={o} offset={o} stopColor={c} />)}
          </linearGradient>
        </defs>
        <XAxis type="number" domain={[0, 1]} ticks={ticks} interval={0} height={25} tickSize={4} tickMargin={3} stroke="#222"
          tick={{ fontSize: 11, fill: '#333', fontFamily: SANS }} tickFormatter={(v) => labels[ticks.indexOf(v)]} />
        <YAxis type="category" dataKey="k" hide />
        <Bar dataKey="v" fill={`url(#${id})`} isAnimationActive={false} />
      </BarChart>
    </Panel>
  );
}

function NetworkPanel() {
  return (
    <>
      <Panel x={1060} y={560}>
        <ScatterChart width={844} height={598} margin={{ top: 0, right: 0, bottom: 0, left: 0 }}>
          <XAxis type="number" dataKey="x" domain={[0, 1568]} hide />
          <YAxis type="number" dataKey="y" domain={[0, 1568]} reversed hide />
          {edges.map(([a, b]) => {
            const strong = ppiStrong.includes(`${a.name}-${b.name}`);
            return (
              <Scatter key={`${a.name}-${b.name}`} data={[{ x: a.x, y: a.y }, { x: b.x, y: b.y }]}
                line={{ stroke: strong ? '#cf2a40' : '#dc5a6a', strokeWidth: strong ? 2.4 : 1.5, strokeOpacity: 0.85 }} shape={noMark} isAnimationActive={false} />
            );
          })}
          <Scatter data={nodes} shape={<NodeMark />} isAnimationActive={false} />
        </ScatterChart>
      </Panel>
      <div style={{ position: 'absolute', left: 1139, top: 623, width: 9, height: 9, borderRadius: '50%', background: '#f98b8b' }} />
      <Txt x={1144} y={642} size={16.5} anchor="middle" color="#333">mRNA</Txt>
      <ScaleBar id="log2Grad" x={1187} width={126} stops={[['0%', '#0000ff'], ['50%', '#800080'], ['100%', '#ff0000']]} ticks={[0, 0.5, 1]} labels={['-4.1', '-1.0', '2.2']} />
      <Txt x={1324} y={627} size={16.5} color="#333">log2 <span style={{ fontFamily: '"Liberation Serif", serif' }}>(IAAL/ Veh)</span></Txt>
      <ScaleBar id="ppiGrad" x={1472} width={84} stops={[['0%', '#ffffff'], ['100%', '#c8102e']]} ticks={[0, 1]} labels={['1', '1,000']} />
      <Txt x={1567} y={627} size={17} color="#333">ppi</Txt>
    </>
  );
}

export default function App() {
  const letter = { size: 32, weight: 700, color: '#000' };
  return (
    <div style={{ position: 'absolute', left: 0, top: 0, width: 1904, height: 1158, background: '#fff', overflow: 'hidden', fontFamily: SANS }}>
      <VolcanoPanel />
      <EnrichmentPanel />
      <HeatmapPanel />
      <NetworkPanel />
      <Txt x={8} y={26} {...letter}>A</Txt>
      <Txt x={985} y={26} {...letter}>B</Txt>
      <Txt x={8} y={586} {...letter}>C</Txt>
      <Txt x={1063} y={586} {...letter}>D</Txt>
    </div>
  );
}
